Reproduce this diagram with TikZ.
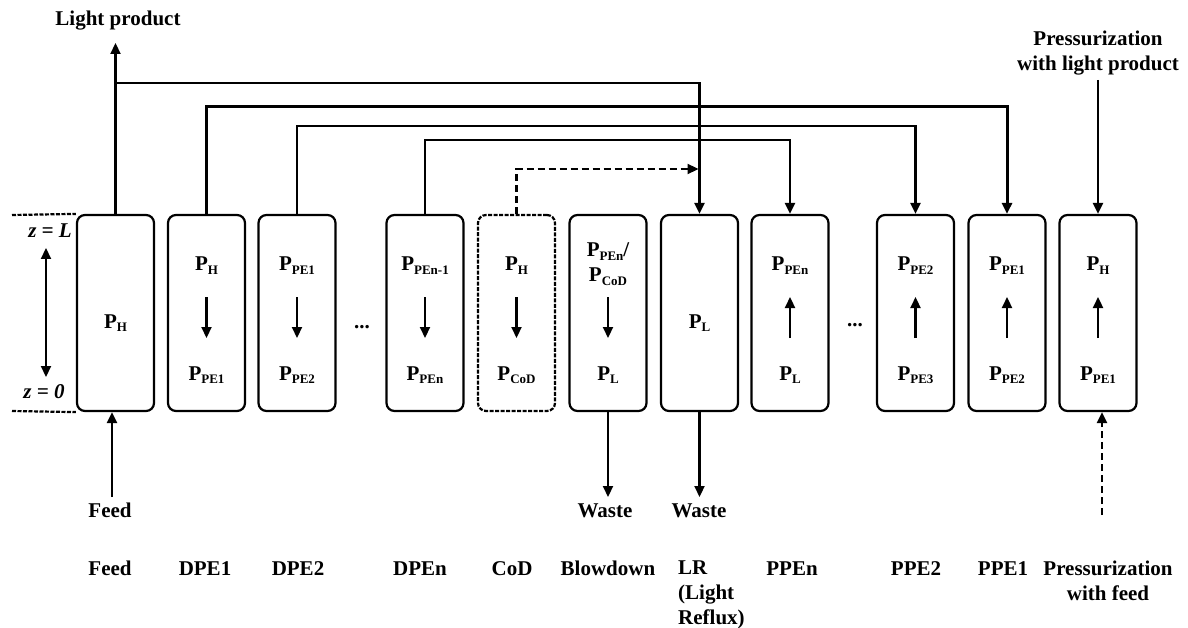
\documentclass[tikz,border=0pt]{standalone}
\usepackage{fontspec}
\setmainfont{Liberation Serif}
\usetikzlibrary{arrows.meta,calc}
\newcommand{\Ps}[1]{P\raisebox{-3.5pt}{\fontsize{13}{13}\selectfont #1}}
\begin{document}
\begin{tikzpicture}[x=1pt,y=-1pt,
  every node/.style={font=\fontsize{21}{25}\selectfont\bfseries, inner sep=0pt},
  col/.style={draw, line width=2.2pt, rounded corners=8pt, minimum width=77pt, minimum height=196pt},
  dcol/.style={col, dash pattern=on 4pt off 1.5pt},
  ln/.style={line width=2.2pt},
  arr/.style={ln, -{Triangle[length=11pt,width=10pt]}},
  darr/.style={arr, dash pattern=on 7pt off 4pt},
  lbl/.style={anchor=base},
]
\path[use as bounding box] (0,0) rectangle (1188,628);

% columns
\node[col] (feed) at (115.5,313) {};
\node[col] (dpe1) at (206.5,313) {};
\node[col] (dpe2) at (297,313) {};
\node[col] (dpen) at (425,313) {};
\node[dcol] (cod) at (516.5,313) {};
\node[col] (blow) at (608,313) {};
\node[col] (lr) at (699.5,313) {};
\node[col] (ppen) at (790,313) {};
\node[col] (ppe2) at (915.5,313) {};
\node[col] (ppe1) at (1007,313) {};
\node[col] (pres) at (1098,313) {};

% inner labels
\node[lbl] (feedP) at ($(feed)+(0,15)$) {\Ps{H}};
\node[lbl] (lrP) at ($(lr)+(0,15)$) {\Ps{L}};

\node[lbl] (dpe1t) at ($(dpe1)+(0,-42)$) {\Ps{H}};
\node[lbl] (dpe1b) at ($(dpe1)+(0,67)$) {\Ps{PE1}};
\node[lbl] (dpe2t) at ($(dpe2)+(0,-42)$) {\Ps{PE1}};
\node[lbl] (dpe2b) at ($(dpe2)+(0,67)$) {\Ps{PE2}};
\node[lbl] (dpent) at ($(dpen)+(0,-42)$) {\Ps{PEn-1}};
\node[lbl] (dpenb) at ($(dpen)+(0,67)$) {\Ps{PEn}};
\node[lbl] (codt) at ($(cod)+(0,-42)$) {\Ps{H}};
\node[lbl] (codb) at ($(cod)+(0,67)$) {\Ps{CoD}};
\node[lbl] (blowt1) at ($(blow)+(0,-56)$) {\Ps{PEn}/};
\node[lbl] (blowt2) at ($(blow)+(0,-31)$) {\Ps{CoD}};
\node[lbl] (blowb) at ($(blow)+(0,67)$) {\Ps{L}};
\node[lbl] (ppent) at ($(ppen)+(0,-42)$) {\Ps{PEn}};
\node[lbl] (ppenb) at ($(ppen)+(0,67)$) {\Ps{L}};
\node[lbl] (ppe2t) at ($(ppe2)+(0,-42)$) {\Ps{PE2}};
\node[lbl] (ppe2b) at ($(ppe2)+(0,67)$) {\Ps{PE3}};
\node[lbl] (ppe1t) at ($(ppe1)+(0,-42)$) {\Ps{PE1}};
\node[lbl] (ppe1b) at ($(ppe1)+(0,67)$) {\Ps{PE2}};
\node[lbl] (prest) at ($(pres)+(0,-42)$) {\Ps{H}};
\node[lbl] (presb) at ($(pres)+(0,67)$) {\Ps{PE1}};

% inner arrows
\foreach \b in {dpe1,dpe2,dpen,cod,blow}{
  \draw[arr] ($(\b)+(0,-16)$) -- ($(\b)+(0,25)$);
}
\foreach \b in {ppen,ppe2,ppe1,pres}{
  \draw[arr] ($(\b)+(0,25)$) -- ($(\b)+(0,-16)$);
}

% dots
\node[lbl] (dots1) at (362,328) {...};
\node[lbl] (dots2) at (855,326) {...};

% z axis marks
\coordinate (zlt) at (12,215);
\coordinate (zlb) at (12,411);
\draw[ln, dash pattern=on 4pt off 1.5pt] (zlt) -- (feed.north west);
\draw[ln, dash pattern=on 4pt off 1.5pt] (zlb) -- (feed.south west);
\node[lbl] (zL) at (50,238) {\textit{z = L}};
\node[lbl] (z0) at (44,398) {\textit{z = 0}};
\coordinate (za) at (46,248);
\coordinate (zb) at (46,377);
\draw[ln, {Triangle[length=11pt,width=10pt]}-{Triangle[length=11pt,width=10pt]}] (za) -- (zb);

% top connectors
\node[lbl] (lp) at (118,26) {Light product};
\coordinate (h43) at (0,43);
\coordinate (h83) at (0,83);
\coordinate (h107) at (0,107);
\coordinate (h126) at (0,126);
\coordinate (h140) at (0,140);
\coordinate (h169) at (0,169);
\draw[arr] (feed.north) -- (feed.north |- h43);
\draw[arr] (feed.north |- h83) -| (lr.north);
\draw[arr, line width=3pt] (dpe1.north) -- (dpe1.north |- h107) -| (ppe1.north);
\draw[arr] (dpe2.north) -- (dpe2.north |- h126) -| (ppe2.north);
\draw[arr] (dpen.north) -- (dpen.north |- h140) -| (ppen.north);
\draw[darr, shorten >=1pt] (cod.north) -- (cod.north |- h169) -- (lr.north |- h169);

\node[anchor=north, align=center] (plp) at (1098,31) {Pressurization\\with light product};
\coordinate (h80) at (0,80);
\draw[arr] (pres.north |- h80) -- (pres.north);

% bottom connectors
\coordinate (h497) at (0,497);
\coordinate (h515) at (0,515);
\node[lbl] (feedin) at (110,517) {Feed};
\draw[arr] ([xshift=-3.5pt]feed.south |- h497) -- ([xshift=-3.5pt]feed.south);
\node[lbl] (waste1) at (605,517) {Waste};
\draw[arr] (blow.south) -- (blow.south |- h497);
\node[lbl] (waste2) at (699,517) {Waste};
\draw[arr] (lr.south) -- (lr.south |- h497);
\draw[darr] ([xshift=4pt]pres.south |- h515) -- ([xshift=4pt]pres.south);

% step names
\node[lbl] (sFeed) at (110,575) {Feed};
\node[lbl] (sDPE1) at (205,575) {DPE1};
\node[lbl] (sDPE2) at (298,575) {DPE2};
\node[lbl] (sDPEn) at (420,575) {DPEn};
\node[lbl] (sCoD) at (512,575) {CoD};
\node[lbl] (sBlow) at (608,575) {Blowdown};
\node[anchor=north west, align=left] (sLR) at (678,561) {LR\\(Light\\Reflux)};
\node[lbl] (sPPEn) at (792,575) {PPEn};
\node[lbl] (sPPE2) at (916,575) {PPE2};
\node[lbl] (sPPE1) at (1003,575) {PPE1};
\node[anchor=north, align=center] (sPres) at (1108,561) {Pressurization\\with feed};
\end{tikzpicture}
\end{document}
